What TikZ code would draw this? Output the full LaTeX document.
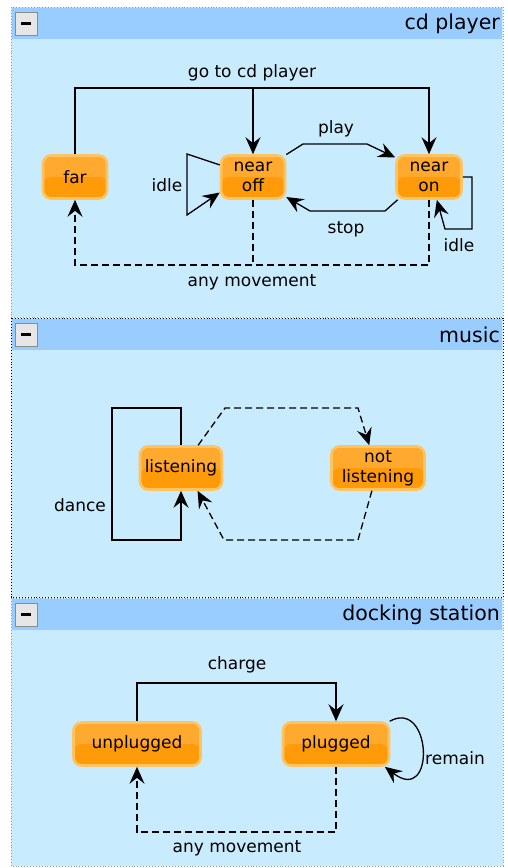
\documentclass[tikz,border=0pt]{standalone}
\usepackage{fontspec}
\setmainfont{DejaVu Sans}
\usetikzlibrary{arrows.meta,calc}

\definecolor{panelbg}{HTML}{C9EBFE}
\definecolor{headbg}{HTML}{99CCFF}
\definecolor{panelrule}{HTML}{8A9BB0}
\definecolor{nodetop}{HTML}{FFAA2E}
\definecolor{nodebot}{HTML}{FF9A08}
\definecolor{nodeedge}{HTML}{FFC462}
\definecolor{btnfill}{HTML}{E6E6E6}
\definecolor{btnedge}{HTML}{8C8C8C}

\begin{document}
\begin{tikzpicture}[x=1pt,y=-1pt,
  state/.style={rounded corners=8pt, minimum height=43pt, inner sep=0pt,
    align=center, draw=nodeedge, line width=2.6pt, fill=nodetop,
    font=\fontsize{17}{20}\selectfont,
    path picture={\fill[nodebot] (path picture bounding box.west) rectangle (path picture bounding box.south east);}},
  lbl/.style={font=\fontsize{17}{20}\selectfont, inner sep=0pt},
  title/.style={font=\fontsize{20.5}{24}\selectfont, anchor=east, inner sep=0pt},
  conn/.style={line width=1.3pt, -{Stealth[length=17pt,width=15pt,inset=6pt]}},
  plain/.style={line width=1.3pt},
  dashline/.style={dash pattern=on 7pt off 4pt},
  panel/.style={fill=panelbg, draw=panelrule, line width=0.9pt, dotted},
  button/.style={fill=btnfill, draw=btnedge, line width=1pt}]

\useasboundingbox (0,0) rectangle (508,868);

% ---------- panel frames ----------
\path[panel] (11,7) rectangle (503,317);
\fill[headbg] (12,8) rectangle (502,39);
\path[panel, draw=black] (11,318) rectangle (503,597);
\fill[headbg] (12,319) rectangle (502,350);
\path[panel] (11,598) rectangle (503,866);
\fill[headbg] (12,599) rectangle (502,630);

% collapse buttons
\foreach \y in {12,323,603}{
  \draw[button] (15,\y) rectangle (37,\y+23);
  \fill[black] (21,\y+10) rectangle (31,\y+13);
}

\node[title] (t1) at (500,24) {cd player};
\node[title] (t2) at (500,335) {music};
\node[title] (t3) at (500,615) {docking station};

% ---------- cd player ----------
\node[state, minimum width=64pt] (far) at (75,177) {far};
\node[state, minimum width=64pt] (nearoff) at (253,177) {near\\off};
\node[state, minimum width=65pt] (nearon) at (429,177) {near\\on};

\coordinate (top1) at (0,88);
\coordinate (bot1) at (0,265);

\draw[conn] (far.north) -- (far.north |- top1) -| (nearon.north);
\draw[conn] (nearoff.north |- top1) -- (nearoff.north);
\node[lbl] (lgo) at (252,73) {go to cd player};

\draw[conn] (nearoff.34) -- (303,144) -- (367,144) -- (nearon.150);
\node[lbl] (lplay) at (336,129) {play};

\draw[conn] (nearon.216) -- (385,211) -- (310,211) -- (nearoff.-31);
\node[lbl] (lstop) at (346,229) {stop};

\draw[conn] (nearoff.160) -- (187,154) -- (187,215) -- (nearoff.205);
\node[lbl] (lidle1) at (167,185) {idle};

\draw[conn] (nearon.east) -- (472,177) -- (472,229) -- (445,229) -- (nearon.-71);
\node[lbl] (lidle2) at (459,245) {idle};

\draw[conn, dashline] (nearon.south) -- (nearon.south |- bot1) -| (far.south);
\draw[plain, dashline] (nearoff.south) -- (nearoff.south |- bot1);
\node[lbl] (lany1) at (252,282) {any movement};

% ---------- music ----------
\node[state, minimum width=82pt] (listen) at (181,468) {listening};
\node[state, minimum width=93pt] (notlisten) at (378,468) {not\\listening};

\draw[conn] (listen.north) -- (listen.north |- 0,408) -- (112,408) -- (112,540) -- (listen.south |- 0,540) -- (listen.south);
\node[lbl] (ldance) at (80,505) {dance};

\draw[conn, dashline] (listen.53) -- (225,408) -- (358,408) -- (notlisten.111);
\draw[conn, dashline] (notlisten.255) -- (358,540) -- (224,540) -- (listen.-54);

% ---------- docking station ----------
\node[state, minimum width=127pt] (unplug) at (137,744) {unplugged};
\node[state, minimum width=106pt] (plug) at (336,744) {plugged};

\coordinate (top3) at (0,683);
\coordinate (bot3) at (0,832);

\draw[conn] (unplug.north) -- (unplug.north |- top3) -| (plug.north);
\node[lbl] (lcharge) at (237,665) {charge};

\draw[conn] (plug.23) .. controls (432,698) and (436,806) .. (plug.-25);
\node[lbl] (lremain) at (455,758) {remain};

\draw[conn, dashline] (plug.south) -- (plug.south |- bot3) -| (unplug.south);
\node[lbl] (lany3) at (237,848) {any movement};

\end{tikzpicture}
\end{document}
